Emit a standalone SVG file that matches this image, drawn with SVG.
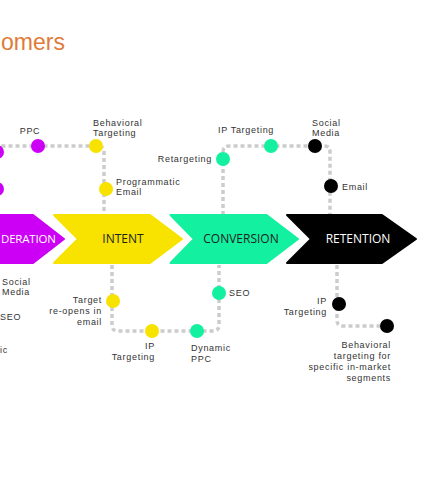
<svg xmlns="http://www.w3.org/2000/svg" width="426" height="480" viewBox="0 0 426 480">
<style>
.lbl{font-family:"Liberation Sans",Arial,sans-serif;font-size:9px;letter-spacing:0.7px;fill:#333}
.stage{font-family:"Open Sans","Liberation Sans",sans-serif;font-size:12px;text-anchor:middle}
.dash{fill:none;stroke:#cccccc;stroke-width:3.5;stroke-dasharray:4 3}
.p{fill:#cc00f5}.y{fill:#f7e200}.g{fill:#12f0a0}.k{fill:#000}
</style>
<rect width="426" height="480" fill="#fff"/>
<text x="1" y="50" font-family="Liberation Sans, Arial, sans-serif" font-size="23" fill="#e07b39">omers</text>
<g id="connectors">
<path class="dash" d="M-3 200 V152 Q-3 146 3 146 H98 Q104 146 104 152 V215"/>
<path class="dash" d="M223 215 V152 Q223 146 229 146 H325 Q330 146 330 152 V215"/>
<path class="dash" d="M112 265 V325 Q112 331 118 331 H213 Q219 331 219 325 V265"/>
<path class="dash" d="M337 265 V320 Q337 326 343 326 H387"/>
</g>
<g id="consideration">
<polygon class="p" points="-80,215 33,215 64,239 33,263 -80,263" stroke="#cc00f5" stroke-width="2" stroke-linejoin="round"/>
<text x="1" y="243" font-family="Open Sans, Liberation Sans, sans-serif" font-size="11.5" letter-spacing="-0.2" fill="#fff">DERATION</text>
</g>
<g id="intent">
<polygon class="y" points="54,215 150,215 182,239 150,263 54,263 78,239" stroke="#f7e200" stroke-width="2" stroke-linejoin="round"/>
<text class="stage" x="123" y="243" fill="#222">INTENT</text>
</g>
<g id="conversion">
<polygon class="g" points="170.5,215 266.5,215 298,239 266.5,263 170.5,263 194,239" stroke="#12f0a0" stroke-width="2" stroke-linejoin="round"/>
<text class="stage" x="241" y="243" fill="#222">CONVERSION</text>
</g>
<g id="retention">
<polygon class="k" points="287,215 382,215 416,239 382,263 287,263 311,239" stroke="#000" stroke-width="2" stroke-linejoin="round"/>
<text class="stage" x="358" y="243" fill="#fff">RETENTION</text>
</g>
<g id="p-left-top"><circle class="p" cx="-3" cy="152" r="7"/></g>
<g id="p-left-mid"><circle class="p" cx="-3" cy="189" r="7"/></g>
<g id="p-ppc"><circle class="p" cx="38" cy="146" r="7"/><text class="lbl" x="30" y="134" text-anchor="middle">PPC</text></g>
<g id="y-behavioral"><circle class="y" cx="96" cy="146" r="7"/><text class="lbl" x="93" y="125.5">Behavioral</text><text class="lbl" x="93" y="136">Targeting</text></g>
<g id="y-programmatic"><circle class="y" cx="106" cy="189" r="7"/><text class="lbl" x="116" y="184.5">Programmatic</text><text class="lbl" x="116" y="195">Email</text></g>
<g id="g-retargeting"><circle class="g" cx="223" cy="159" r="7"/><text class="lbl" x="212" y="162" text-anchor="end">Retargeting</text></g>
<g id="g-iptargeting"><circle class="g" cx="271" cy="146" r="7"/><text class="lbl" x="246" y="133" text-anchor="middle">IP Targeting</text></g>
<g id="k-social"><circle class="k" cx="315" cy="146" r="7"/><text class="lbl" x="312" y="125.5">Social</text><text class="lbl" x="312" y="136">Media</text></g>
<g id="k-email"><circle class="k" cx="331" cy="186" r="7"/><text class="lbl" x="342" y="190">Email</text></g>
<g id="p-social"><text class="lbl" x="2" y="284.5">Social</text><text class="lbl" x="2" y="295">Media</text></g>
<g id="p-seo"><text class="lbl" x="0" y="320">SEO</text></g>
<g id="p-programmatic"><text class="lbl" x="8" y="353" text-anchor="end">ic</text></g>
<g id="y-target"><circle class="y" cx="113" cy="301" r="7"/><text class="lbl" x="102" y="303" text-anchor="end">Target</text><text class="lbl" x="102" y="314" text-anchor="end">re-opens in</text><text class="lbl" x="102" y="325" text-anchor="end">email</text></g>
<g id="y-ip"><circle class="y" cx="152" cy="331" r="7"/><text class="lbl" x="155" y="349" text-anchor="end">IP</text><text class="lbl" x="155" y="360" text-anchor="end">Targeting</text></g>
<g id="g-dynamic"><circle class="g" cx="197" cy="331" r="7"/><text class="lbl" x="191" y="351">Dynamic</text><text class="lbl" x="191" y="361.5">PPC</text></g>
<g id="g-seo"><circle class="g" cx="219" cy="293" r="7"/><text class="lbl" x="229" y="296">SEO</text></g>
<g id="k-ip"><circle class="k" cx="339" cy="304" r="7"/><text class="lbl" x="327" y="304" text-anchor="end">IP</text><text class="lbl" x="327" y="315" text-anchor="end">Targeting</text></g>
<g id="k-behavioral"><circle class="k" cx="387" cy="326" r="7"/><text class="lbl" x="391" y="348" text-anchor="end">Behavioral</text><text class="lbl" x="391" y="359" text-anchor="end">targeting for</text><text class="lbl" x="391" y="370" text-anchor="end">specific in-market</text><text class="lbl" x="391" y="381" text-anchor="end">segments</text></g>
</svg>
